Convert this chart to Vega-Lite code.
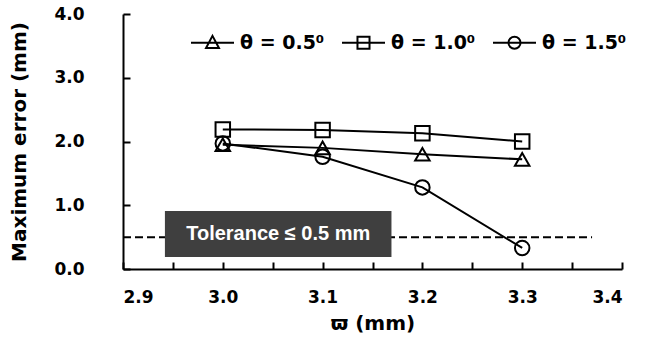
{
  "$schema": "https://vega.github.io/schema/vega-lite/v6.json",
  "width": 499,
  "height": 255,
  "autosize": {"type": "none"},
  "padding": {"left": 123, "top": 14, "right": 29, "bottom": 81},
  "background": "white",
  "config": {
    "view": {"stroke": null},
    "axis": {
      "grid": false,
      "domainColor": "black",
      "domainWidth": 2,
      "tickColor": "black",
      "tickWidth": 2,
      "tickSize": -7,
      "labelFont": "DejaVu Sans",
      "labelFontWeight": "bold",
      "labelFontSize": 17,
      "labelColor": "black",
      "titleFont": "DejaVu Sans",
      "titleFontWeight": "bold",
      "titleFontSize": 20,
      "titleColor": "black"
    }
  },
  "datasets": {
    "series": [
      {"w": 3.0, "err": 1.95, "theta": "θ = 0.5⁰"},
      {"w": 3.1, "err": 1.9, "theta": "θ = 0.5⁰"},
      {"w": 3.2, "err": 1.8, "theta": "θ = 0.5⁰"},
      {"w": 3.3, "err": 1.72, "theta": "θ = 0.5⁰"},
      {"w": 3.0, "err": 2.19, "theta": "θ = 1.0⁰"},
      {"w": 3.1, "err": 2.18, "theta": "θ = 1.0⁰"},
      {"w": 3.2, "err": 2.13, "theta": "θ = 1.0⁰"},
      {"w": 3.3, "err": 2.0, "theta": "θ = 1.0⁰"},
      {"w": 3.0, "err": 1.97, "theta": "θ = 1.5⁰"},
      {"w": 3.1, "err": 1.76, "theta": "θ = 1.5⁰"},
      {"w": 3.2, "err": 1.28, "theta": "θ = 1.5⁰"},
      {"w": 3.3, "err": 0.33, "theta": "θ = 1.5⁰"}
    ],
    "tolerance": [{"x1": 2.9, "x2": 3.37, "y": 0.5}],
    "box": [{"x1": 2.942, "x2": 3.169, "y1": 0.19, "y2": 0.91, "xc": 3.0555, "yc": 0.55, "label": "Tolerance ≤ 0.5 mm"}]
  },
  "resolve": {"scale": {"shape": "independent"}, "legend": {"shape": "independent"}},
  "layer": [
    {
      "data": {"name": "tolerance"},
      "mark": {"type": "rule", "color": "black", "strokeWidth": 2, "strokeDash": [8, 4]},
      "encoding": {
        "x": {"field": "x1", "type": "quantitative", "scale": {"domain": [2.9, 3.4], "nice": false, "zero": false},
          "axis": {
            "title": "ϖ (mm)",
            "values": [2.9, 2.95, 3.0, 3.05, 3.1, 3.15, 3.2, 3.25, 3.3, 3.35, 3.4],
            "labelExpr": "abs(round(datum.value*20) % 2) == 0 ? format(datum.value, '.1f') : ''",
            "labelPadding": 27,
            "titlePadding": 8
          }},
        "x2": {"field": "x2"},
        "y": {"field": "y", "type": "quantitative", "scale": {"domain": [0, 4], "nice": false},
          "axis": {
            "title": "Maximum error (mm)",
            "values": [0, 0.5, 1, 1.5, 2, 2.5, 3, 3.5, 4],
            "labelExpr": "datum.value % 1 == 0 ? format(datum.value, '.1f') : ''",
            "labelPadding": 46,
            "titlePadding": 24
          }}
      }
    },
    {
      "data": {"name": "box"},
      "mark": {"type": "rect", "color": "#3f3f3f"},
      "encoding": {
        "x": {"field": "x1", "type": "quantitative"},
        "x2": {"field": "x2"},
        "y": {"field": "y1", "type": "quantitative"},
        "y2": {"field": "y2"}
      }
    },
    {
      "data": {"name": "box"},
      "mark": {"type": "text", "color": "white", "font": "Liberation Sans", "fontWeight": "bold", "fontSize": 20, "align": "center", "baseline": "middle"},
      "encoding": {
        "x": {"field": "xc", "type": "quantitative"},
        "y": {"field": "yc", "type": "quantitative"},
        "text": {"field": "label"}
      }
    },
    {
      "data": {"name": "series"},
      "mark": {"type": "line", "color": "black", "strokeWidth": 2},
      "encoding": {
        "x": {"field": "w", "type": "quantitative"},
        "y": {"field": "err", "type": "quantitative"},
        "detail": {"field": "theta"}
      }
    },
    {
      "data": {"name": "series"},
      "mark": {"type": "point", "filled": false, "stroke": "black", "strokeWidth": 2, "size": 210, "opacity": 1},
      "encoding": {
        "x": {"field": "w", "type": "quantitative"},
        "y": {"field": "err", "type": "quantitative"},
        "shape": {
          "field": "theta",
          "type": "nominal",
          "scale": {"domain": ["θ = 0.5⁰", "θ = 1.0⁰", "θ = 1.5⁰"], "range": ["triangle-up", "square", "circle"]},
          "legend": null
        }
      }
    },
    {
      "data": {"name": "series"},
      "mark": {"type": "point", "filled": false, "stroke": "black", "strokeWidth": 2, "opacity": 0},
      "encoding": {
        "x": {"field": "w", "type": "quantitative"},
        "y": {"field": "err", "type": "quantitative"},
        "shape": {
          "field": "theta",
          "type": "nominal",
          "scale": {"domain": ["θ = 0.5⁰", "θ = 1.0⁰", "θ = 1.5⁰"], "range": ["M-1,0H1M0,-0.32L0.3,0.24L-0.3,0.24Z", "M-1,0H1M-0.28,-0.28H0.28V0.28H-0.28Z", "M-1,0H1M0.28,0A0.28,0.28,0,1,1,-0.28,0A0.28,0.28,0,1,1,0.28,0Z"]},
          "legend": {
            "title": null,
            "orient": "none",
            "legendX": 67,
            "legendY": 6,
            "direction": "horizontal",
            "symbolSize": 1849,
            "symbolStrokeWidth": 2,
            "symbolStrokeColor": "black",
            "symbolFillColor": "transparent",
            "symbolOpacity": 1,
            "labelFont": "DejaVu Sans",
            "labelFontWeight": "bold",
            "labelFontSize": 19,
            "labelColor": "black",
            "labelOffset": 5,
            "columnPadding": 13
          }
        }
      }
    }
  ]
}
